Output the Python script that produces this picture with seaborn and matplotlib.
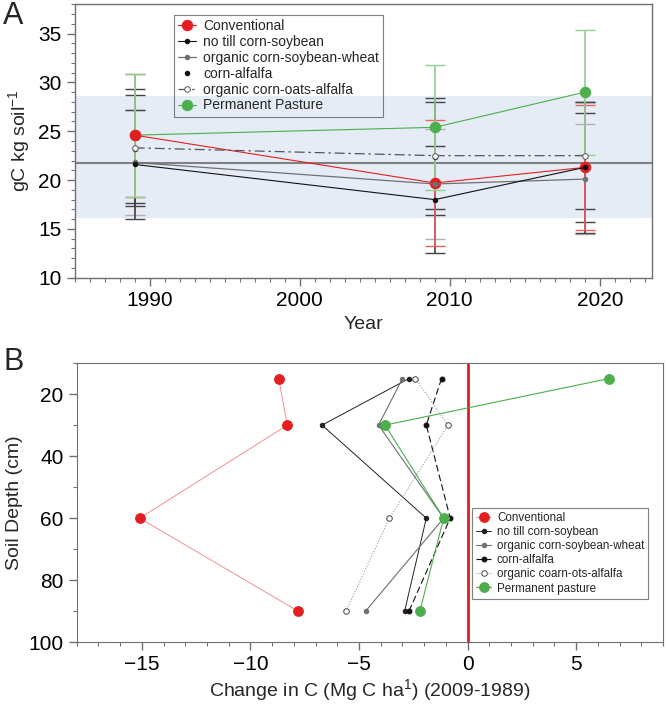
import matplotlib
matplotlib.use('Agg')
import matplotlib.pyplot as plt
import seaborn as sns
import pandas as pd
from matplotlib.ticker import MultipleLocator

# panel A: soil carbon over time
years = [1989, 2009, 2019]
conventional = [24.6, 19.7, 21.3]
conventional_err = [6.3, 6.4, 6.4]
no_till = [21.6, 18.0, 21.3]
no_till_err = [5.6, 5.5, 6.7]
org_csw = [21.8, 19.6, 20.1]
org_csw_err = [5.4, 5.6, 5.6]
corn_alfalfa = [23.2, 22.4, 21.3]
corn_alfalfa_err = [5.5, 6.0, 5.6]
org_coa = [23.3, 22.5, 22.5]
org_coa_err = [6.0, 5.5, 5.5]
pasture = [24.6, 25.4, 29.0]
pasture_err = [6.3, 6.4, 6.4]
baseline = 21.7
band = [16.15, 28.6]

# panel B: change in C by depth
depths = [15, 30, 60, 90]
b_conventional = [-8.7, -8.3, -15.1, -7.8]
b_no_till = [-2.7, -6.7, -1.9, -2.9]
b_org_csw = [-3.0, -4.1, -1.1, -4.7]
b_corn_alfalfa = [-1.2, -1.9, -0.8, -2.7]
b_org_coa = [-2.4, -0.9, -3.6, -5.6]
b_pasture = [6.5, -3.8, -1.1, -2.2]

RED = '#e41e20'
GREEN = '#4cae4c'

sns.set_style('ticks')
plt.rcParams['font.family'] = ['Liberation Sans', 'DejaVu Sans']
plt.rcParams['axes.edgecolor'] = '#707070'
plt.rcParams['xtick.color'] = '#707070'
plt.rcParams['ytick.color'] = '#707070'
plt.rcParams['xtick.labelcolor'] = 'black'
plt.rcParams['ytick.labelcolor'] = 'black'
plt.rcParams['xtick.labelsize'] = 15
plt.rcParams['ytick.labelsize'] = 15

fig = plt.figure(figsize=(6.67, 7.05), dpi=100)
axA = fig.add_axes([0.112, 0.606, 0.866, 0.388])
axB = fig.add_axes([0.115, 0.089, 0.879, 0.396])

# ---- panel A ----
axA.axhspan(band[0], band[1], color='#e6ecf6', lw=0, zorder=0)
axA.axhline(baseline, color='#808080', lw=1.5, zorder=1)

styles_a = [
    ('corn-alfalfa', corn_alfalfa, corn_alfalfa_err, '#111111', dict(marker='o', ls='', ms=3.2)),
    ('Permanent Pasture', pasture, pasture_err, GREEN, dict(marker='o', ls='-', lw=0.8, ms=7.5)),
    ('Conventional', conventional, conventional_err, RED, dict(marker='o', ls='-', lw=0.8, ms=7.5)),
    ('organic corn-soybean-wheat', org_csw, org_csw_err, '#707070', dict(marker='o', ls='-', lw=0.9, ms=3.2)),
    ('no till corn-soybean', no_till, no_till_err, '#111111', dict(marker='o', ls='-', lw=0.8, ms=3.2)),
    ('organic corn-oats-alfalfa', org_coa, org_coa_err, '#555555',
     dict(marker='o', ls=(0, (8, 3, 2, 3)), lw=0.9, ms=4, mfc='white', mew=0.7)),
]
err_colors = {'Permanent Pasture': '#8fd08f', 'Conventional': '#ef6060', 'organic corn-soybean-wheat': '#b0b0b0'}
err_order = ['organic corn-soybean-wheat', 'corn-alfalfa', 'no till corn-soybean',
             'organic corn-oats-alfalfa', 'Conventional', 'Permanent Pasture']
for name in err_order:
    _, vals, errs, col, kw = next(s for s in styles_a if s[0] == name)
    axA.errorbar(years, vals, yerr=errs, fmt='none', ecolor=err_colors.get(name, '#444444'),
                 elinewidth=1.2, capsize=7, capthick=1.0, zorder=2)
for name, vals, errs, col, kw in styles_a:
    df = pd.DataFrame({'Year': years, 'C': vals})
    kw = dict(kw)
    ls = kw.pop('ls')
    sns.lineplot(data=df, x='Year', y='C', ax=axA, color=col, linestyle=ls if ls else 'None',
                 mec=kw.pop('mec', col), label=name, zorder=3, **kw)

axA.set_xlim(1985, 2023.5)
axA.set_ylim(10, 38)
axA.xaxis.set_major_locator(MultipleLocator(10))
axA.xaxis.set_minor_locator(MultipleLocator(1))
axA.yaxis.set_major_locator(MultipleLocator(5))
axA.yaxis.set_minor_locator(MultipleLocator(1))
axA.tick_params(which='major', length=6, width=1)
axA.tick_params(which='minor', length=3, width=0.8)
axA.set_xlabel('Year', fontsize=14)
axA.set_ylabel('gC kg soil$^{\\mathregular{-1}}$', fontsize=14)
order = ['Conventional', 'no till corn-soybean', 'organic corn-soybean-wheat', 'corn-alfalfa',
         'organic corn-oats-alfalfa', 'Permanent Pasture']
h, l = axA.get_legend_handles_labels()
hl = dict(zip(l, h))
legA = axA.legend([hl[k] for k in order], order, loc='upper left', bbox_to_anchor=(0.172, 0.96),
                  fontsize=10, frameon=True, fancybox=False, edgecolor='#606060', facecolor='none',
                  handlelength=1.3, handletextpad=0.5, labelspacing=0.13,
                  borderpad=0.3, borderaxespad=0)
legA.get_frame().set_linewidth(0.8)
for sp in axA.spines.values():
    sp.set_linewidth(1)

# ---- panel B ----
axB.axvline(0, color=RED, lw=2, zorder=1)
styles_b = [
    ('Conventional', b_conventional, RED, dict(marker='o', ls='-', lw=0.6, ms=7)),
    ('no till corn-soybean', b_no_till, '#222222', dict(marker='o', ls='-', lw=0.7, ms=3.2)),
    ('organic corn-soybean-wheat', b_org_csw, '#707070', dict(marker='o', ls='-', lw=0.8, ms=3.2)),
    ('corn-alfalfa', b_corn_alfalfa, '#111111', dict(marker='o', ls=(0, (6, 3)), lw=0.8, ms=3.5)),
    ('organic coarn-ots-alfalfa', b_org_coa, '#9a9a9a',
     dict(marker='o', ls=(0, (1, 1.5)), lw=0.8, ms=4, mfc='white', mew=0.7, mec='#444444')),
    ('Permanent pasture', b_pasture, GREEN, dict(marker='o', ls='-', lw=0.8, ms=7)),
]
line_colors_b = {'Conventional': '#f08080'}
for name, vals, col, kw in styles_b:
    df = pd.DataFrame({'depth': depths, 'change': vals})
    kw = dict(kw)
    ls = kw.pop('ls')
    mec = kw.pop('mec', col)
    sns.lineplot(data=df, x='change', y='depth', ax=axB, sort=False, orient='y',
                 color=line_colors_b.get(name, col), linestyle=ls, mfc=kw.pop('mfc', col),
                 mec=mec, label=name, zorder=3, **kw)

axB.set_xlim(-18, 9)
axB.set_ylim(100, 10)
axB.xaxis.set_major_locator(MultipleLocator(5))
axB.xaxis.set_minor_locator(MultipleLocator(1))
axB.yaxis.set_major_locator(MultipleLocator(20))
axB.yaxis.set_minor_locator(MultipleLocator(10))
axB.tick_params(which='major', length=6, width=1)
axB.tick_params(which='minor', length=3, width=0.8)
axB.set_xlabel('Change in C (Mg C ha$^{\\mathregular{1}}$) (2009-1989)', fontsize=14, labelpad=2)
axB.set_ylabel('Soil Depth (cm)', fontsize=14)
legB = axB.legend(loc='upper left', bbox_to_anchor=(0.674, 0.481), fontsize=8.4, frameon=True,
                  fancybox=False, edgecolor='#606060', facecolor='white', handlelength=1.3,
                  handletextpad=0.5, labelspacing=0.18, borderpad=0.35, borderaxespad=0)
legB.get_frame().set_linewidth(0.8)

fig.text(0.005, 0.998, 'A', fontsize=22, va='top', ha='left')
fig.text(0.005, 0.508, 'B', fontsize=22, va='top', ha='left')

fig.savefig('out.png', dpi=100)
